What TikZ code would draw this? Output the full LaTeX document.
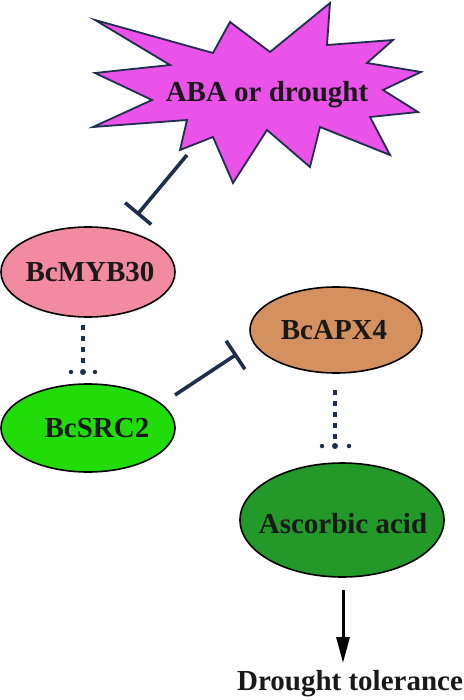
\documentclass[tikz,border=0pt]{standalone}
\usepackage{fontspec}
\setmainfont{Liberation Serif}
\usetikzlibrary{shapes.geometric,arrows.meta}
\definecolor{navy}{HTML}{1F2E4C}
\definecolor{starfill}{HTML}{EA52EA}
\definecolor{pinkfill}{HTML}{F28AA0}
\definecolor{limefill}{HTML}{22DC0A}
\definecolor{tanfill}{HTML}{D4915F}
\definecolor{darkgreen}{HTML}{23992A}
\tikzset{
  lbl/.style={font=\fontsize{29}{32}\selectfont\bfseries, text=black!90, inner sep=0pt},
  oval/.style={ellipse, draw=black, line width=1.6pt, inner sep=0pt},
  inhib/.style={draw=navy, line width=3.6pt, -{Bar[width=34pt,line width=3.6pt]}},
  dotline/.style={draw=navy, line width=3.6pt, dash pattern=on 5pt off 6pt},
  dotmark/.style={fill=navy, circle, inner sep=0pt, minimum size=4.5pt},
  activ/.style={draw=black, line width=3pt, -{Triangle[length=26pt,width=13pt]}}
}
\begin{document}
\begin{tikzpicture}[x=1pt,y=-1pt]
\useasboundingbox (0,0) rectangle (463,700);
% star
\draw[navy, line width=1.8pt, fill=starfill, line join=miter]
  (95,20) -- (213,53) -- (230,22) -- (270,52) -- (330,3) -- (327,45) -- (393,40)
  -- (367,63) -- (421,72) -- (383,90) -- (418,112) -- (370,117) -- (390,155)
  -- (320,127) -- (310,167) -- (267,130) -- (233,183) -- (213,137) -- (180,150)
  -- (187,120) -- (93,127) -- (152,100) -- (95,73) -- (170,65) -- cycle;
\node[lbl] (aba) at (267,95) {ABA or drought};
% ellipses
\node[oval, fill=pinkfill, minimum width=174pt, minimum height=90pt] (myb) at (88,272) {};
\node[lbl] (mybt) at (90,272) {BcMYB30};
\node[oval, fill=limefill, minimum width=174pt, minimum height=88pt] (src) at (88,428) {};
\node[lbl] (srct) at (97,428) {BcSRC2};
\node[oval, fill=tanfill, minimum width=172pt, minimum height=86pt] (apx) at (336,330) {};
\node[lbl] (apxt) at (334,330) {BcAPX4};
\node[oval, fill=darkgreen, minimum width=204pt, minimum height=114pt] (asc) at (342,520) {};
\node[lbl] (asct) at (343,524) {Ascorbic acid};
\node[lbl] (tol) at (350,684) {Drought tolerance};
% connectors
\coordinate (starS) at (187,155);
\coordinate (mybIn) at (137,215);
\draw[inhib] (starS) -- (mybIn);
\coordinate (srcOut) at (175,395);
\coordinate (apxIn) at (237,354);
\draw[inhib] (srcOut) -- (apxIn);
% dotted inhibition MYB -> SRC
\coordinate (mybB) at (83,325);
\coordinate (srcT) at (83,369);
\draw[dotline] (mybB) -- (srcT);
\node[dotmark] (d1) at (71,372) {};
\node[dotmark, minimum size=6pt] (d2) at (83,372) {};
\node[dotmark] (d3) at (95,372) {};
% dotted inhibition APX -> ASC
\coordinate (apxB) at (335,390);
\coordinate (ascT) at (335,443);
\draw[dotline] (apxB) -- (ascT);
\node[dotmark] (e1) at (322,446) {};
\node[dotmark, minimum size=6pt] (e2) at (335,446) {};
\node[dotmark] (e3) at (349,446) {};
% activation
\coordinate (ascB) at (343,590);
\coordinate (tolT) at (343,663);
\draw[activ] (ascB) -- (tolT);
\end{tikzpicture}
\end{document}
